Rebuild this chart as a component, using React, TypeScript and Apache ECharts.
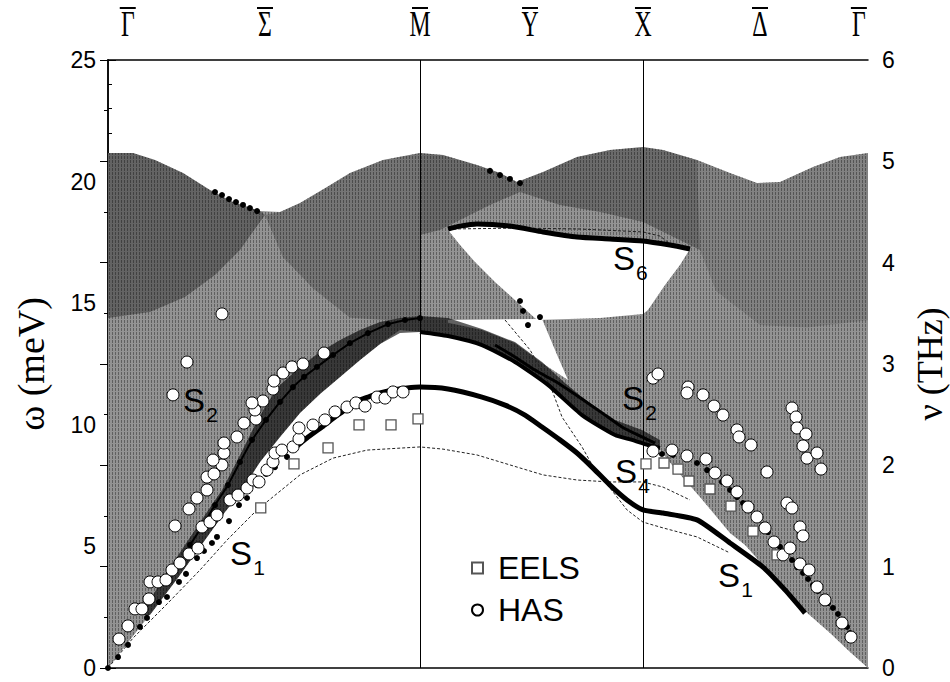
import React, { useEffect, useRef } from 'react';
import * as echarts from 'echarts';

// ---------- k-path (0 = Γ, 100 = Γ along Γ-M-X-Γ) ----------
const symbolNames = ['Γ', 'Σ', 'M', 'Y', 'X', 'Δ', 'Γ'];
const symbolK = [2.6, 20.66, 41.05, 55.53, 70.39, 85.79, 98.8];
const verticalK = [41.05, 70.39];

// ---------- bulk band regions (k, meV) ----------
const topEdge = [[0,21.18],[3.29,21.18],[6.18,20.89],[9.87,20.35],[13.42,19.65],[16.45,19.16],[20.0,18.79],[22.63,18.75],[25.26,19.12],[28.82,19.78],[31.84,20.35],[36.18,20.89],[41.05,21.18],[44.08,21.09],[48.55,20.68],[51.58,20.35],[53.82,19.98],[57.24,20.39],[61.71,21.01],[66.05,21.30],[70.39,21.42],[73.03,21.30],[77.5,20.89],[81.84,20.35],[85.39,19.94],[88.42,19.98],[92.76,20.60],[96.32,21.01],[100,21.18]];
const bottomEdge = [[100,0],[97.63,0.66],[95.0,1.44],[91.71,2.34],[89.08,3.29],[86.18,4.24],[83.82,5.06],[81.84,5.55],[79.87,6.29],[77.89,7.03],[75.92,7.73],[74.21,8.35],[72.63,8.96],[71.05,9.13],[66.71,9.58],[62.37,10.40],[57.89,11.64],[53.55,12.58],[49.21,13.28],[44.74,13.65],[41.05,13.82],[38.42,13.90],[35.79,13.32],[33.16,12.66],[30.53,11.97],[27.89,11.27],[25.26,10.49],[22.63,9.50],[20.0,8.47],[17.37,7.20],[15.39,6.41],[12.76,5.26],[9.47,3.82],[6.18,2.47],[2.89,1.15],[0,0]];
const lensHole = [[44.74,18.01],[48.55,18.17],[52.89,18.09],[57.24,17.89],[61.71,17.68],[66.05,17.60],[70.39,17.56],[76.58,17.23],[75.26,16.57],[73.29,15.75],[71.05,14.72],[70.39,14.56],[64.74,14.39],[56.45,14.31],[53.55,15.13],[50.92,15.87],[48.29,16.69],[46.32,17.39]];
const gapHole = [[44.74,14.31],[57.11,14.35],[59.21,12.79],[60.53,11.84],[57.11,12.54],[53.55,13.36],[49.21,13.90],[44.74,14.20]];
const gammaOptical = [[0,21.18],[3.29,21.18],[6.18,20.89],[9.87,20.35],[13.42,19.65],[16.45,19.16],[20.0,18.79],[20.66,18.63],[17.37,17.19],[14.08,16.16],[10.13,15.25],[5.53,14.64],[0,14.39]];
const sigmaUpper = [[20.66,18.63],[22.63,18.75],[25.26,19.12],[28.82,19.78],[31.84,20.35],[36.18,20.89],[41.05,21.18],[41.05,14.47],[36.84,14.3],[31.84,14.4],[27.0,15.6],[23.0,16.9]];
const upperBandMX = [[41.05,21.18],[44.08,21.09],[48.55,20.68],[51.58,20.35],[53.82,19.98],[57.24,20.39],[61.71,21.01],[66.05,21.30],[70.39,21.42],[73.03,21.30],[77.5,20.89],[77.89,17.19],[70.39,18.34],[64.74,18.75],[59.47,19.04],[54.21,19.57],[50.26,19.04],[46.32,18.42],[43.68,18.01],[41.05,17.80]];
const deltaUpper = [[77.5,20.89],[81.84,20.35],[85.39,19.94],[88.42,19.98],[92.76,20.60],[96.32,21.01],[100,21.18],[100,14.3],[92.0,14.0],[85.8,14.1],[80.0,15.5],[77.89,17.19]];
const leftDarkBand = [[5.53,2.18],[9.47,3.82],[12.76,5.26],[15.39,6.41],[17.37,7.20],[20.0,8.47],[22.63,9.50],[25.26,10.49],[27.89,11.27],[30.53,11.97],[33.16,12.66],[35.79,13.32],[38.42,13.77],[41.05,13.82],[41.05,14.47],[38.42,14.39],[35.79,14.23],[33.16,13.90],[30.53,13.49],[27.89,12.99],[25.26,12.38],[22.63,11.64],[20.79,10.81],[19.34,9.99],[18.03,9.17],[16.71,8.35],[15.0,7.32],[12.76,6.29],[10.13,5.06],[7.5,3.82],[5.53,2.80],[4.21,2.18]];
const midDarkBand = [[41.05,14.47],[44.74,14.39],[49.21,13.94],[53.55,13.40],[57.11,12.58],[60.13,11.72],[63.16,10.94],[66.71,10.20],[70.26,9.79],[72.63,9.38],[72.63,8.96],[71.05,9.13],[66.71,9.58],[62.37,10.40],[57.89,11.64],[53.55,12.58],[49.21,13.28],[44.74,13.65],[41.05,13.82]];

// ---------- thin bulk-edge curves ----------
const edgeLow = [[0,0],[3.29,1.23],[7.76,2.63],[12.11,4.03],[15.66,5.26],[19.61,6.50],[25.26,7.94],[29.61,8.63],[34.08,8.96],[41.05,9.09],[44.08,9.00],[48.55,8.76],[52.89,8.35],[57.24,7.94],[61.71,7.73],[66.05,7.65],[70.39,7.65],[73.03,7.44],[76.58,6.91]];
const edgeMid = [[52.24,14.31],[55.53,13.08],[58.16,11.64],[59.74,10.32],[62.37,9.09],[64.08,8.14],[66.05,7.40],[68.29,6.50],[70.39,6.00],[73.03,5.76],[77.5,5.39],[81.84,4.73]];
const edgeS6 = [[44.74,18.05],[54.21,18.09],[62.11,18.05],[70.39,17.93],[72.63,17.76],[74.34,17.35]];

// ---------- surface modes (calculation) ----------
const s1Dots = [[0,0],[1.32,0.45],[2.63,0.95],[4.21,1.69],[5.13,2.06],[6.71,2.71],[7.76,2.92],[9.34,3.54],[10.26,3.87],[11.71,4.52],[12.63,4.81],[13.68,5.14],[14.34,5.39],[15.92,6.04],[17.24,6.70],[18.29,6.99],[19.61,7.52],[20.79,7.98],[21.97,8.26],[23.55,8.68]];
const s1Line = [[24.87,9.13],[26.18,9.46],[28.16,9.91],[29.87,10.32],[31.18,10.61],[32.50,10.94],[34.21,11.14],[35.79,11.31],[37.50,11.43],[39.34,11.51],[41.05,11.55],[44.74,11.47],[49.21,11.14],[52.24,10.81],[54.87,10.40],[57.11,9.91],[59.47,9.38],[61.71,8.84],[63.82,8.22],[66.05,7.52],[68.29,6.91],[70.39,6.50],[73.03,6.37],[77.50,6.09],[81.84,5.14],[86.18,4.15],[89.08,3.21],[91.71,2.26]];
const s2Left = [[10.79,5.06],[12.5,5.88],[14.08,6.70],[15.79,7.52],[17.37,8.47],[18.95,9.38],[20.79,10.20],[22.63,10.94],[24.34,11.55],[25.79,11.97],[27.5,12.38],[29.61,12.87],[31.84,13.36],[34.21,13.77],[36.84,14.14],[39.08,14.31],[41.05,14.39]];
const s4Line = [[41.05,13.82],[44.74,13.65],[49.21,13.28],[53.55,12.58],[57.89,11.64],[62.37,10.40],[66.71,9.58],[68.95,9.38],[71.05,9.17],[72.63,9.05]];
const s2Right = [[50.92,13.28],[53.55,12.79],[56.18,12.25],[59.21,11.72],[62.37,11.06],[65.0,10.49],[67.63,9.91],[70.26,9.50],[71.97,9.25]];
const s6Line = [[44.74,18.05],[46.32,18.17],[48.55,18.26],[52.89,18.17],[57.24,17.93],[61.71,17.72],[66.05,17.64],[70.39,17.56],[73.95,17.39],[76.58,17.23]];
const rightDots = [[71.32,8.88],[72.89,8.80],[74.34,8.76],[75.92,8.63],[77.5,8.43],[78.82,8.14],[79.87,7.89],[80.79,7.65],[81.84,7.32],[82.76,7.03],[83.55,6.78],[84.47,6.50],[85.39,6.21],[86.18,5.88],[86.84,5.59],[87.63,5.26],[88.42,4.98],[89.21,4.69],[90.0,4.44],[90.66,4.15],[91.45,3.91],[92.11,3.66],[92.76,3.41],[93.42,3.17],[94.08,2.92],[94.74,2.67],[95.39,2.47],[96.05,2.22],[96.71,1.97],[97.24,1.69],[97.63,1.44]];
const upperDots = [[14.08,19.57],[15.0,19.45],[15.92,19.28],[16.84,19.16],[17.76,19.04],[18.68,18.91],[19.61,18.79],[50.26,20.44],[51.58,20.27],[52.89,20.11],[54.21,19.94],[54.21,15.09],[54.61,14.68],[55.26,14.10],[56.84,14.43]];

// ---------- experiment ----------
const eels = [[20.1,6.58],[24.47,8.39],[28.95,9.05],[33.03,10.0],[37.24,10.0],[40.79,10.24],[70.79,8.39],[73.16,8.43],[75.0,8.18],[76.45,7.69],[79.21,7.36],[81.97,6.66],[84.87,5.63],[88.03,4.65]];
const hasLeftLow = [[1.45,1.19],[2.63,1.73],[3.55,2.43],[4.47,2.43],[5.39,2.84],[5.53,3.54],[6.58,3.54],[7.63,3.62],[8.42,4.03],[9.47,4.32],[10.66,4.69],[11.84,4.93],[12.37,5.80],[13.42,6.00],[14.34,6.29],[16.05,6.91],[17.11,7.11],[18.29,7.40],[19.08,7.73],[19.87,7.65],[20.92,8.14],[21.71,8.47],[21.97,8.84],[22.89,8.96],[24.34,9.09],[25.13,9.42],[25.13,9.87],[26.97,9.99],[28.55,10.20],[29.87,10.53],[31.45,10.73],[32.63,10.90],[33.82,10.77],[35.39,11.14],[36.45,11.10],[37.5,11.35],[38.82,11.35]];
const hasLeftUp = [[8.82,5.84],[10.66,6.54],[11.71,6.99],[13.03,7.32],[13.03,7.85],[13.95,7.98],[15.0,8.35],[13.82,8.55],[15.26,8.84],[15.26,9.25],[16.97,9.50],[17.89,10.07],[19.47,10.24],[19.34,10.61],[20.39,10.98],[18.95,10.90],[21.71,11.47],[21.84,11.80],[23.03,12.13],[24.21,12.38],[25.66,12.50],[28.42,12.95],[8.55,11.23],[10.39,12.58],[15.0,14.56]];
const hasRight = [[71.71,8.92],[74.21,8.96],[76.18,8.72],[78.68,8.59],[79.87,8.02],[81.45,7.69],[82.76,7.24],[84.21,6.62],[85.39,6.21],[86.45,5.76],[87.63,5.18],[88.82,4.65],[89.74,4.93],[91.05,4.28],[92.24,4.03],[93.29,3.33],[94.34,2.80],[96.58,1.85],[97.76,1.27],[71.71,11.92],[72.37,12.09],[76.32,11.55],[76.18,11.31],[78.29,11.23],[79.74,10.77],[80.92,10.40],[82.76,9.79],[83.03,9.50],[84.61,9.17],[86.71,8.06],[90.0,10.69],[90.53,10.32],[90.66,9.87],[91.84,9.62],[91.45,9.13],[91.97,8.63],[93.29,8.84],[93.82,8.18],[89.34,6.78],[90.0,6.58],[91.05,5.80],[91.45,5.43]];

// ---------- mode labels ----------
const modeLabels = [
  { value: [17.5, 4.69], sub: '1' },
  { value: [11.32, 10.98], sub: '2' },
  { value: [67.89, 16.82], sub: '6' },
  { value: [69.08, 11.10], sub: '2' },
  { value: [68.16, 8.06], sub: '4' },
  { value: [81.71, 3.82], sub: '1' },
];

const SANS = '"Liberation Sans", Arial, sans-serif';
const SERIF = '"Liberation Serif", "Times New Roman", serif';

function makeHatch(): any {
  const c = document.createElement('canvas');
  c.width = 3; c.height = 4;
  const ctx = c.getContext('2d');
  if (!ctx) return 'rgba(0,0,0,0)';
  ctx.fillStyle = '#000';
  ctx.fillRect(1, 0, 1, 3);
  return { image: c.toDataURL(), repeat: 'repeat', imageWidth: 3, imageHeight: 4 };
}

export default function App() {
  const ref = useRef<HTMLDivElement>(null);
  useEffect(() => {
    if (!ref.current) return;
    const chart = echarts.init(ref.current, undefined, { renderer: 'svg' });
    const hatch = makeHatch();
    const bulk = [...topEdge, ...bottomEdge];
    const regions: { pts: number[][]; fill: any; opacity?: number }[] = [
      { pts: bulk, fill: '#939393' },
      { pts: bulk, fill: hatch, opacity: 0.35 },
      { pts: lensHole, fill: '#ffffff' },
      { pts: gapHole, fill: '#ffffff' },
      { pts: gammaOptical, fill: 'rgba(0,0,0,0.32)' },
      { pts: sigmaUpper, fill: 'rgba(0,0,0,0.2)' },
      { pts: upperBandMX, fill: 'rgba(0,0,0,0.28)' },
      { pts: deltaUpper, fill: 'rgba(0,0,0,0.12)' },
      { pts: leftDarkBand, fill: 'rgba(0,0,0,0.62)' },
      { pts: midDarkBand, fill: 'rgba(0,0,0,0.62)' },
    ];
    const thin = (name: string, data: number[][]) => ({
      name, type: 'line', data, symbol: 'none', silent: true, z: 3,
      lineStyle: { color: '#222', width: 1, type: [3, 2] },
    });
    const thick = (name: string, data: number[][], w: number) => ({
      name, type: 'line', data, symbol: 'none', silent: true, z: 5,
      lineStyle: { color: '#000', width: w }, smooth: 0.2,
    });
    const labelText = { fontFamily: SANS, color: '#000', textBorderWidth: 0, textShadowBlur: 0, opacity: 1 };
    const option: any = {
      animation: false,
      grid: { left: 108, right: 82, top: 60, bottom: 14, outerBoundsMode: 'none' },
      xAxis: [
        { type: 'value', min: 0, max: 100, position: 'bottom', axisLine: { lineStyle: { color: '#000', width: 1.5 } }, axisTick: { show: false }, axisLabel: { show: false }, splitLine: { show: false } },
        { type: 'value', min: 0, max: 100, position: 'top', axisLine: { show: true, onZero: false, lineStyle: { color: '#000', width: 1.5 } }, axisTick: { show: false }, axisLabel: { show: false }, splitLine: { show: false } },
      ],
      yAxis: [
        {
          type: 'value', min: 0, max: 25, interval: 5, position: 'left',
          name: 'ω (meV)', nameLocation: 'middle', nameGap: 58,
          nameTextStyle: { fontFamily: SERIF, fontSize: 38, color: '#000' },
          axisLine: { show: true, lineStyle: { color: '#000', width: 1.5 } },
          axisTick: { show: true, inside: true, length: 8, lineStyle: { color: '#000' } },
          minorTick: { show: true, splitNumber: 5, length: 4, lineStyle: { color: '#000' } },
          axisLabel: { fontFamily: SANS, fontSize: 23, color: '#000', margin: 12 },
          splitLine: { show: false },
        },
        {
          type: 'value', min: 0, max: 6, interval: 1, position: 'right',
          name: 'ν (THz)', nameLocation: 'middle', nameGap: 44,
          nameTextStyle: { fontFamily: SERIF, fontSize: 36, color: '#000' },
          axisLine: { show: true, lineStyle: { color: '#000', width: 1.5 } },
          axisTick: { show: true, inside: true, length: 8, lineStyle: { color: '#000' } },
          minorTick: { show: true, splitNumber: 2, length: 4, lineStyle: { color: '#000' } },
          axisLabel: { fontFamily: SANS, fontSize: 23, color: '#000', margin: 14 },
          splitLine: { show: false },
        },
      ],
      legend: {
        data: ['EELS', 'HAS'], orient: 'vertical', left: 466, top: 547,
        itemWidth: 11, itemHeight: 11, itemGap: 10,
        textStyle: { fontFamily: SANS, fontSize: 32, color: '#000', padding: [0, 0, 0, 10] },
        selectedMode: false,
      },
      series: [
        {
          name: 'bulk', type: 'custom', silent: true, z: 1,
          data: regions.map((_, i) => [i, 0]),
          renderItem: (params: any, api: any) => {
            const r = regions[params.dataIndex];
            const style: any = { fill: r.fill };
            if (r.opacity != null) style.opacity = r.opacity;
            return { type: 'polygon', shape: { points: r.pts.map((p) => api.coord(p)) }, style };
          },
        },
        {
          ...thin('edgeLow', edgeLow),
          markLine: {
            silent: true, symbol: ['none', 'none'], label: { show: false },
            lineStyle: { color: '#000', width: 1, type: 'solid' },
            data: verticalK.map((k) => ({ xAxis: k })),
          },
        },
        thin('edgeMid', edgeMid),
        thin('edgeS6', edgeS6),
        thick('S1', s1Line, 5),
        thick('S4', s4Line, 4),
        thick('S2r', s2Right, 3),
        thick('S6', s6Line, 5),
        {
          name: 'S2l', type: 'line', data: s2Left, symbol: 'circle', symbolSize: 6, silent: true, z: 5,
          lineStyle: { color: '#000', width: 2 }, itemStyle: { color: '#000', opacity: 1 },
        },
        {
          name: 'dots', type: 'scatter', silent: true, z: 5, symbol: 'circle', symbolSize: 6,
          data: [...s1Dots, ...rightDots, ...upperDots], itemStyle: { color: '#000', opacity: 1 },
        },
        {
          name: 'EELS', type: 'scatter', symbol: 'rect', symbolSize: 10, z: 8, data: eels,
          itemStyle: { color: '#fff', borderColor: '#555', borderWidth: 1.3, opacity: 1 },
        },
        {
          name: 'HAS', type: 'scatter', symbol: 'circle', symbolSize: 12, z: 9,
          data: [...hasLeftLow, ...hasLeftUp, ...hasRight],
          itemStyle: { color: '#fff', borderColor: '#000', borderWidth: 1, opacity: 1 },
        },
        {
          name: 'modeS', type: 'scatter', symbolSize: 0, silent: true, z: 10, data: modeLabels,
          itemStyle: { opacity: 1 },
          label: { show: true, position: 'inside', formatter: 'S', fontSize: 33, ...labelText },
        },
        {
          name: 'modeSub', type: 'scatter', symbolSize: 0, silent: true, z: 10, data: modeLabels,
          itemStyle: { opacity: 1 },
          label: { show: true, position: 'inside', offset: [18, 14], formatter: (p: any) => p.data.sub, fontSize: 21, ...labelText },
        },
      ],
    };
    chart.setOption(option);
    const graphic: any[] = [];
    symbolK.forEach((k, i) => {
      const x = chart.convertToPixel({ xAxisIndex: 0 }, k) as number;
      graphic.push({ type: 'text', x, y: 24, scaleX: 0.66, style: { text: symbolNames[i], font: `36px ${SERIF}`, fill: '#000', textAlign: 'center', textVerticalAlign: 'middle' } });
      graphic.push({ type: 'line', shape: { x1: x - 8, y1: 8, x2: x + 8, y2: 8 }, style: { stroke: '#000', lineWidth: 2 } });
    });
    chart.setOption({ graphic });
    return () => chart.dispose();
  }, []);
  return <div ref={ref} style={{ width: 950, height: 682, position: 'absolute', left: 0, top: 0 }} />;
}
